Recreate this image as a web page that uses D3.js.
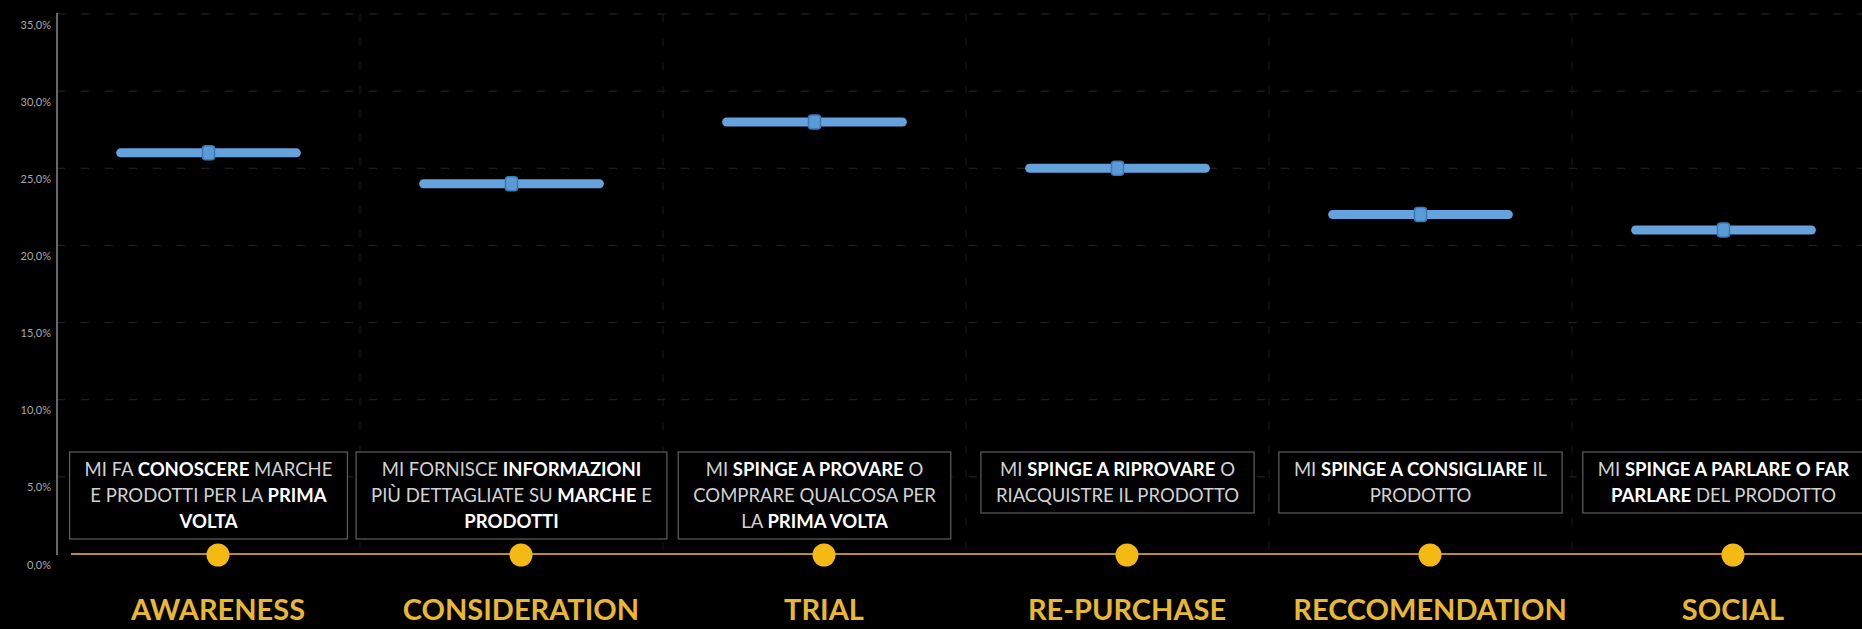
<!DOCTYPE html>
<html>
<head>
<meta charset="utf-8">
<script src="https://cdn.jsdelivr.net/npm/d3@7"></script>
<style>
    html, body { margin: 0; padding: 0; background: #000; }
    svg { display: block; }
</style>
</head>
<body>
<div id="chart"></div>
<script>
// funnel stages and their share
const categories = ["AWARENESS", "CONSIDERATION", "TRIAL", "RE-PURCHASE", "RECCOMENDATION", "SOCIAL"];
const values = [26.0, 24.0, 28.0, 25.0, 22.0, 21.0];
const yTicks = [0, 5, 10, 15, 20, 25, 30, 35];

// box text: one entry per stage, lines made of [text, bold]
const descriptions = [
    [[["MI FA ", 0], ["CONOSCERE", 1], [" MARCHE", 0]],
     [["E PRODOTTI PER LA ", 0], ["PRIMA", 1]],
     [["VOLTA", 1]]],
    [[["MI FORNISCE ", 0], ["INFORMAZIONI", 1]],
     [["PIÙ DETTAGLIATE SU ", 0], ["MARCHE", 1], [" E", 0]],
     [["PRODOTTI", 1]]],
    [[["MI ", 0], ["SPINGE A PROVARE", 1], [" O", 0]],
     [["COMPRARE QUALCOSA PER", 0]],
     [["LA ", 0], ["PRIMA VOLTA", 1]]],
    [[["MI ", 0], ["SPINGE A RIPROVARE", 1], [" O", 0]],
     [["RIACQUISTRE IL PRODOTTO", 0]]],
    [[["MI ", 0], ["SPINGE A CONSIGLIARE", 1], [" IL", 0]],
     [["PRODOTTO", 0]]],
    [[["MI ", 0], ["SPINGE A PARLARE O FAR", 1]],
     [["PARLARE", 1], [" DEL PRODOTTO", 0]]]
];

const width = 1862, height = 629;
const plotLeft = 57, plotTop = 14, plotBottom = 554;
const bandW = 303;

const it = d3.formatLocale({decimal: ",", thousands: ".", grouping: [3], currency: ["€", ""]});
const fmt = it.format(".1f");

const svg = d3.select("#chart").append("svg")
    .attr("width", width)
    .attr("height", height)
    .style("font-family", "Lato, 'Open Sans', sans-serif");

svg.append("rect").attr("width", width).attr("height", height).attr("fill", "#000");

const x = d3.scaleBand().domain(categories).range([plotLeft, plotLeft + bandW * categories.length]).padding(0);
const y = d3.scaleLinear().domain([0, 35]).range([plotBottom, plotTop]);
// the slide's stage markers sit a bit off the chart bands
const xStage = d3.scalePoint().domain(categories).range([218, 1733]);

// grid
const grid = svg.append("g");
grid.selectAll("line.h")
    .data(yTicks.filter(d => d > 0))
    .join("line")
    .attr("class", "h")
    .attr("x1", plotLeft).attr("x2", width)
    .attr("y1", d => y(d)).attr("y2", d => y(d))
    .attr("stroke", "#262626")
    .attr("stroke-width", 1)
    .attr("stroke-dasharray", "8,16");

grid.selectAll("line.v")
    .data(categories.slice(1))
    .join("line")
    .attr("class", "v")
    .attr("x1", d => x(d)).attr("x2", d => x(d))
    .attr("y1", plotTop).attr("y2", plotBottom)
    .attr("stroke", "#1a1a1a")
    .attr("stroke-width", 1)
    .attr("stroke-dasharray", "8,16");

// y axis
svg.append("line")
    .attr("x1", plotLeft).attr("x2", plotLeft)
    .attr("y1", plotTop - 1).attr("y2", plotBottom + 1)
    .attr("stroke", "#8a8a8a")
    .attr("stroke-width", 1.5);

svg.append("g").selectAll("text")
    .data(yTicks)
    .join("text")
    .attr("x", plotLeft - 6)
    .attr("y", d => y(d) + 10)
    .attr("text-anchor", "end")
    .attr("dominant-baseline", "central")
    .attr("font-size", 11)
    .attr("fill", "#a8a8a8")
    .text(d => fmt(d) + "%");

// description boxes
const lineH = 26, padTop = 17, padBot = 18;
const boxes = svg.append("g").selectAll("g")
    .data(descriptions)
    .join("g")
    .attr("transform", (d, i) => `translate(${x(categories[i]) + bandW / 2},452)`);

boxes.each(function(lines){
    let g = d3.select(this);
    let rect = g.append("rect").attr("fill", "#000").attr("stroke", "#5e5e5e").attr("stroke-width", 1.2);
    let maxW = 0;
    lines.forEach((segs, li) => {
        let t = g.append("text")
            .attr("x", 0)
            .attr("y", padTop + li * lineH)
            .attr("text-anchor", "middle")
            .attr("dominant-baseline", "central")
            .attr("font-size", 18.5);
        segs.forEach(s => {
            t.append("tspan")
                .attr("font-weight", s[1] ? 700 : 400)
                .attr("fill", s[1] ? "#ffffff" : "#d2d2d2")
                .text(s[0]);
        });
        maxW = Math.max(maxW, t.node().getComputedTextLength());
    });
    let w = maxW + 30;
    let h = padTop + (lines.length - 1) * lineH + padBot;
    rect.attr("x", -w / 2).attr("y", 0).attr("width", w).attr("height", h);
});

// share per stage
const marks = svg.append("g").selectAll("g")
    .data(values)
    .join("g")
    .attr("transform", (d, i) => `translate(${x(categories[i]) + bandW / 2},${y(d)})`);

marks.append("line")
    .attr("x1", -bandW * 0.29).attr("x2", bandW * 0.29)
    .attr("stroke", "#66a2dc")
    .attr("stroke-width", 9)
    .attr("stroke-linecap", "round");

marks.append("rect")
    .attr("x", -6).attr("y", -7)
    .attr("width", 12).attr("height", 14)
    .attr("rx", 3)
    .attr("fill", "#5b9bd5")
    .attr("stroke", "#3d78b8")
    .attr("stroke-width", 1.5);

// timeline
svg.append("line")
    .attr("x1", 71).attr("x2", width)
    .attr("y1", y(0)).attr("y2", y(0))
    .attr("stroke", "#b98f2a")
    .attr("stroke-width", 2);

svg.append("g").selectAll("circle")
    .data(categories)
    .join("circle")
    .attr("cx", d => xStage(d))
    .attr("cy", y(0) + 1)
    .attr("r", 11.5)
    .attr("fill", "#f5b914");

svg.append("g").selectAll("text")
    .data(categories)
    .join("text")
    .attr("x", d => xStage(d))
    .attr("y", 620)
    .attr("text-anchor", "middle")
    .attr("font-size", 29)
    .attr("font-weight", 700)
    .attr("fill", "#e8b832")
    .text(d => d);
</script>
</body>
</html>
